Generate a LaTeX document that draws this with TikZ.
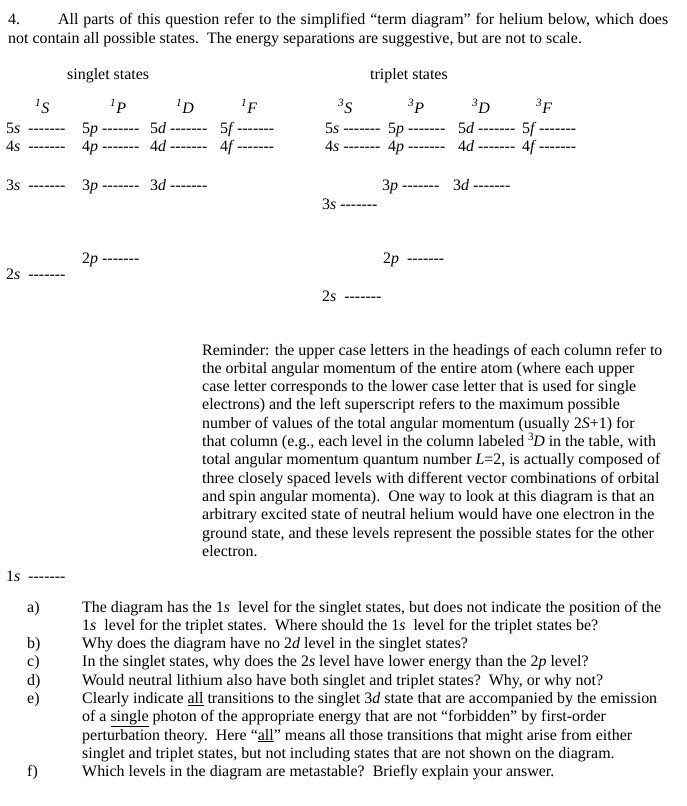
\documentclass[tikz,border=0pt]{standalone}
\usepackage{fontspec}
\setmainfont{Liberation Serif}
\newcommand{\dsh}{-\kern0pt-\kern0pt-\kern0pt-\kern0pt-\kern0pt-\kern0pt-}

\begin{document}
\begin{tikzpicture}[x=1pt,y=-1pt,
    txt/.style={anchor=base west,inner sep=0pt,font=\fontsize{15.95}{18.3}\selectfont},
    lvl/.style={txt}]
    \useasboundingbox (0,0) rectangle (686,806);

    \node[txt] (qnum) at (8,24) {4.};
    \node[txt] (intro1) at (58,24) {\hbox to 610pt{All parts of this question refer to the simplified “term diagram” for helium below, which does}};
    \node[txt] (intro2) at (8,43) {not contain all possible states.\ \ The energy separations are suggestive, but are not to scale.};

    \node[txt] (singlet) at (67,79) {singlet states};
    \node[txt] (triplet) at (370,79) {triplet states};

    % singlet column headings
    \node[lvl] (hS1) at (35,113) {\textsuperscript{\itshape 1}\textit{S}};
    \node[lvl] (hP1) at (110,113) {\textsuperscript{\itshape 1}\textit{P}};
    \node[lvl] (hD1) at (176,113) {\textsuperscript{\itshape 1}\textit{D}};
    \node[lvl] (hF1) at (241,113) {\textsuperscript{\itshape 1}\textit{F}};

    \node[lvl] (s5s) at (6,133) {5\textit{s}\ \ \dsh};
    \node[lvl] (s5p) at (82,133) {5\textit{p}\ \dsh};
    \node[lvl] (s5d) at (150,133) {5\textit{d}\ \dsh};
    \node[lvl] (s5f) at (220,133) {5\textit{f}\,\dsh};
    \node[lvl] (s4s) at (6,151) {4\textit{s}\ \ \dsh};
    \node[lvl] (s4p) at (82,151) {4\textit{p}\ \dsh};
    \node[lvl] (s4d) at (150,151) {4\textit{d}\ \dsh};
    \node[lvl] (s4f) at (220,151) {4\textit{f}\,\dsh};
    \node[lvl] (s3s) at (6,190) {3\textit{s}\ \ \dsh};
    \node[lvl] (s3p) at (82,190) {3\textit{p}\ \dsh};
    \node[lvl] (s3d) at (150,190) {3\textit{d}\ \dsh};
    \node[lvl] (s2p) at (82,263) {2\textit{p}\ \dsh};
    \node[lvl] (s2s) at (6,279) {2\textit{s}\ \ \dsh};
    \node[lvl] (s1s) at (6,581) {1\textit{s}\ \ \dsh};

    % triplet column headings
    \node[lvl] (hS3) at (338,113) {\textsuperscript{\itshape 3}\textit{S}};
    \node[lvl] (hP3) at (408,113) {\textsuperscript{\itshape 3}\textit{P}};
    \node[lvl] (hD3) at (472,113) {\textsuperscript{\itshape 3}\textit{D}};
    \node[lvl] (hF3) at (536,113) {\textsuperscript{\itshape 3}\textit{F}};

    \node[lvl] (t5s) at (325,133) {5\textit{s}\ \dsh};
    \node[lvl] (t5p) at (388,133) {5\textit{p}\ \dsh};
    \node[lvl] (t5d) at (458,133) {5\textit{d}\ \dsh};
    \node[lvl] (t5f) at (522,133) {5\textit{f}\,\dsh};
    \node[lvl] (t4s) at (325,151) {4\textit{s}\ \dsh};
    \node[lvl] (t4p) at (388,151) {4\textit{p}\ \dsh};
    \node[lvl] (t4d) at (458,151) {4\textit{d}\ \dsh};
    \node[lvl] (t4f) at (522,151) {4\textit{f}\,\dsh};
    \node[lvl] (t3p) at (382,190) {3\textit{p}\ \dsh};
    \node[lvl] (t3d) at (453,190) {3\textit{d}\ \dsh};
    \node[lvl] (t3s) at (322,209) {3\textit{s}\ \dsh};
    \node[lvl] (t2p) at (383,263) {2\textit{p}\ \ \dsh};
    \node[lvl] (t2s) at (322,301) {2\textit{s}\ \ \dsh};

    % reminder
    \node[txt] (rem1) at (202,355) {Reminder: the upper case letters in the headings of each column refer to};
    \node[txt] (rem2) at (202,373.3) {the orbital angular momentum of the entire atom (where each upper};
    \node[txt] (rem3) at (202,391.6) {case letter corresponds to the lower case letter that is used for single};
    \node[txt] (rem4) at (202,409.9) {electrons) and the left superscript refers to the maximum possible};
    \node[txt] (rem5) at (202,428.2) {number of values of the total angular momentum (usually 2\textit{S}+1) for};
    \node[txt] (rem6) at (202,446.5) {that column (e.g., each level in the column labeled \textsuperscript{3}\kern-1pt\textit{D} in the table, with};
    \node[txt] (rem7) at (202,464.8) {total angular momentum quantum number \textit{L}=2, is actually composed of};
    \node[txt] (rem8) at (202,483.1) {three closely spaced levels with different vector combinations of orbital};
    \node[txt] (rem9) at (202,501.4) {and spin angular momenta).\ \ One way to look at this diagram is that an};
    \node[txt] (rem10) at (202,519.7) {arbitrary excited state of neutral helium would have one electron in the};
    \node[txt] (rem11) at (202,538) {ground state, and these levels represent the possible states for the other};
    \node[txt] (rem12) at (202,556.3) {electron.};

    % questions
    \node[txt] (qa) at (27,612) {a)};
    \node[txt] (qa1) at (82,612) {The diagram has the 1\textit{s}\ \ level for the singlet states, but does not indicate the position of the};
    \node[txt] (qa2) at (82,630.3) {1\textit{s}\ \ level for the triplet states.\ \ Where should the 1\textit{s}\ \ level for the triplet states be?};
    \node[txt] (qb) at (27,648.6) {b)};
    \node[txt] (qb1) at (82,648.6) {Why does the diagram have no 2\textit{d} level in the singlet states?};
    \node[txt] (qc) at (27,666.9) {c)};
    \node[txt] (qc1) at (82,666.9) {In the singlet states, why does the 2\textit{s} level have lower energy than the 2\textit{p} level?};
    \node[txt] (qd) at (27,685.2) {d)};
    \node[txt] (qd1) at (82,685.2) {Would neutral lithium also have both singlet and triplet states?\ \ Why, or why not?};
    \node[txt] (qe) at (27,703.5) {e)};
    \node[txt] (qe1) at (82,703.5) {Clearly indicate \underline{all} transitions to the singlet 3\textit{d} state that are accompanied by the emission};
    \node[txt] (qe2) at (82,721.8) {of a \underline{single} photon of the appropriate energy that are not “forbidden” by first-order};
    \node[txt] (qe3) at (82,740.1) {perturbation theory.\ \ Here “\underline{all}” means all those transitions that might arise from either};
    \node[txt] (qe4) at (82,758.4) {singlet and triplet states, but not including states that are not shown on the diagram.};
    \node[txt] (qf) at (27,776.7) {f)};
    \node[txt] (qf1) at (82,776.7) {Which levels in the diagram are metastable?\ \ Briefly explain your answer.};
\end{tikzpicture}
\end{document}
